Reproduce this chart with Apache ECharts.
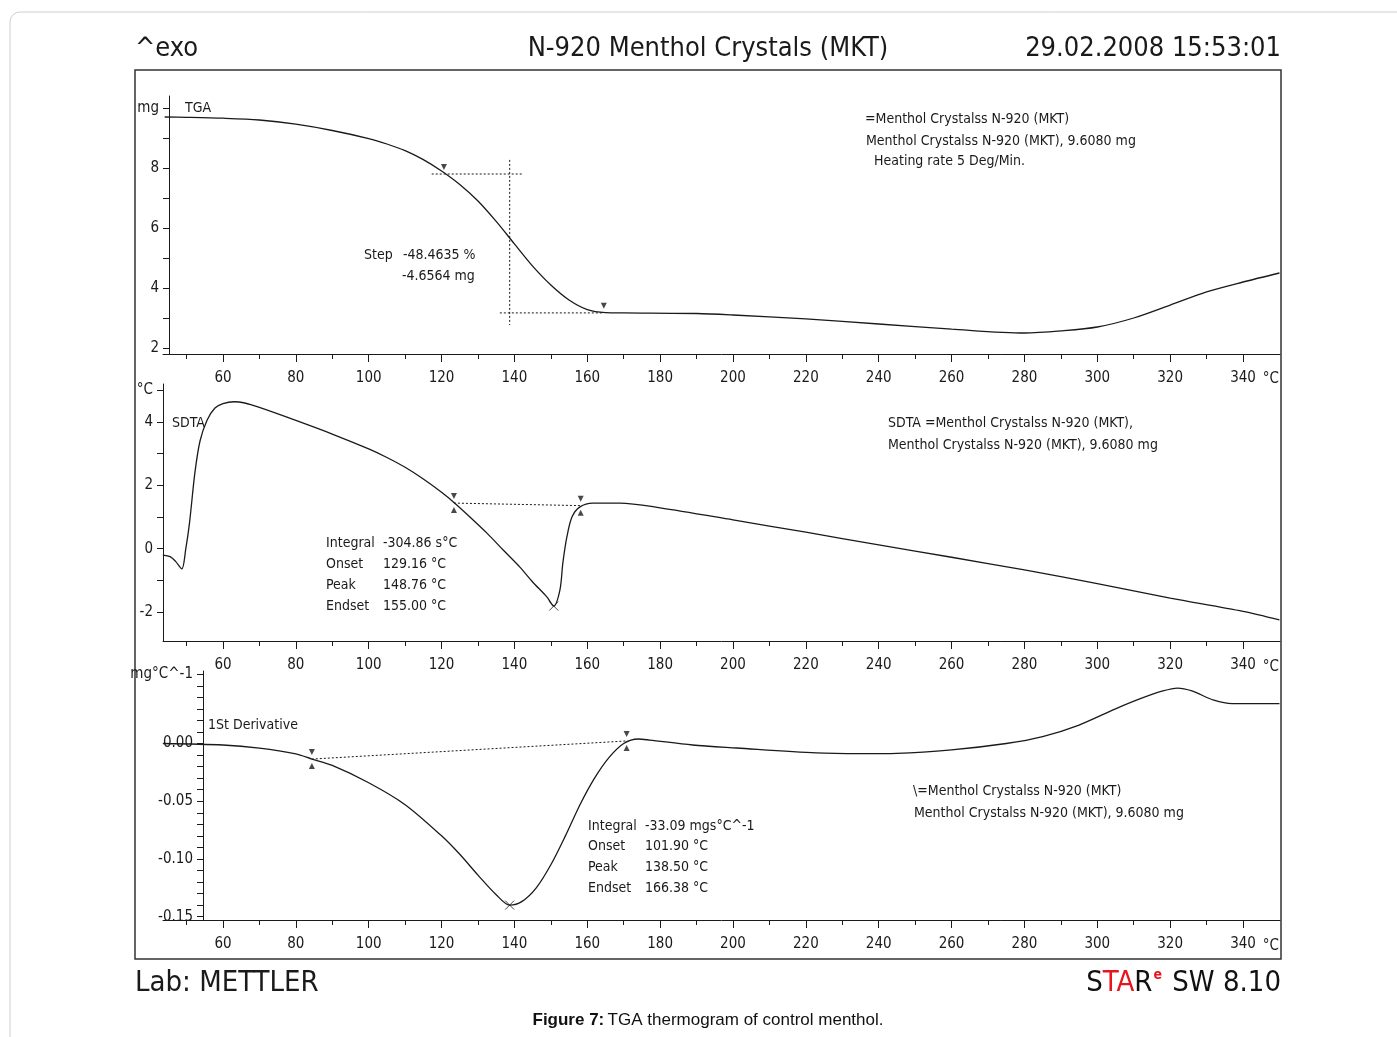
<!DOCTYPE html>
<html>
<head>
<meta charset="utf-8">
<title>N-920 Menthol Crystals (MKT)</title>
<script src="https://cdn.jsdelivr.net/npm/echarts@6/dist/echarts.min.js"></script>
<style>
html, body { margin: 0; padding: 0; background: #fff; }
#chart { width: 1397px; height: 1037px; }
</style>
</head>
<body>
<div id="chart"></div>
<script>
// 温度轴 (°C)
const tMin = 43.54;
const tMax = 350.15;
const xLabels = [60, 80, 100, 120, 140, 160, 180, 200, 220, 240, 260, 280, 300, 320, 340];
const xMinor = [50, 70, 90, 110, 130, 150, 170, 190, 210, 230, 250, 270, 290, 310, 330];

// TGA (mg)
const tgaT = [44, 50, 60, 70, 80, 90, 100, 105, 110, 115, 120, 125, 130, 135, 140, 145, 150, 155, 160, 165, 170, 190, 200, 220, 240, 260, 280, 290, 300, 310, 320, 330, 340, 350];
const tgaMg = [9.70, 9.69, 9.66, 9.60, 9.46, 9.25, 8.98, 8.80, 8.58, 8.28, 7.90, 7.45, 6.90, 6.22, 5.47, 4.73, 4.10, 3.60, 3.28, 3.18, 3.17, 3.15, 3.10, 2.97, 2.80, 2.63, 2.50, 2.57, 2.70, 3.00, 3.43, 3.87, 4.20, 4.50];

// SDTA (°C)
const sdtaT = [43.5, 45.5, 47, 48.7, 49.8, 50.8, 52.3, 53.7, 55.6, 57.8, 60, 63, 66, 70, 80, 90, 100, 105, 110, 115, 120, 123.4, 128, 132.4, 137, 141.5, 145, 148.9, 150.8, 152.5, 153.3, 154.4, 155.8, 158, 161.5, 169, 180, 200, 220, 240, 260, 280, 300, 320, 340, 350];
const sdtaV = [-0.2, -0.25, -0.4, -0.64, 0.0, 0.8, 2.4, 3.4, 4.05, 4.44, 4.58, 4.64, 4.6, 4.46, 4.05, 3.62, 3.15, 2.88, 2.57, 2.2, 1.78, 1.46, 0.98, 0.5, -0.05, -0.58, -1.05, -1.52, -1.81, -1.3, -0.45, 0.37, 1.0, 1.32, 1.44, 1.44, 1.29, 0.91, 0.52, 0.12, -0.27, -0.67, -1.1, -1.56, -1.98, -2.25];

// 1St Derivative (mg°C^-1)
const derT = [43.5, 60, 70, 80, 84.4, 90, 100, 110, 120, 125, 130, 135, 138.7, 142, 146, 150, 154, 158, 162, 166, 170, 174, 177.1, 188.9, 201, 222.9, 235, 245, 260, 275, 285, 295, 305, 312, 318, 322, 326, 332, 337, 350];
const derV = [0.0, -0.0013, -0.004, -0.009, -0.0135, -0.019, -0.034, -0.053, -0.08, -0.096, -0.114, -0.131, -0.14, -0.137, -0.125, -0.105, -0.08, -0.053, -0.03, -0.012, 0.0, 0.0039, 0.003, -0.0013, -0.0039, -0.0082, -0.0088, -0.0085, -0.0055, 0.0, 0.006, 0.016, 0.03, 0.039, 0.0455, 0.048, 0.0455, 0.0375, 0.0345, 0.0345];

// 评估用的虚线
const stepH1 = [[117.3, 7.8], [142.0, 7.8]];
const stepV = [[138.7, 8.27], [138.7, 2.77]];
const stepH2 = [[136.0, 3.17], [164.3, 3.17]];
const sdtaBase = [[123.4, 1.44], [158.2, 1.36]];
const derBase = [[84.4, -0.0135], [170.8, 0.0022]];
const tgaFlags = [[120.1, 7.87], [164.0, 3.24]];
const sdtaLimits = [[123.4, 1.44], [158.2, 1.36]];
const derLimits = [[84.4, -0.0135], [170.8, 0.0022]];
const sdtaPeak = [[150.8, -1.81]];
const derPeak = [[138.7, -0.14]];

// y 轴刻度
const tgaTicks = [2, 3, 4, 5, 6, 7, 8, 9, 10];
const tgaLabels = [2, 4, 6, 8, 10];
const sdtaTicks = [-2, -1, 0, 1, 2, 3, 4, 5];
const sdtaLabels = [-2, 0, 2, 4, 5];
const derTicks = [-0.15, -0.14, -0.13, -0.12, -0.11, -0.10, -0.09, -0.08, -0.07, -0.06, -0.05, -0.04, -0.03, -0.02, -0.01, 0, 0.01, 0.02, 0.03, 0.04, 0.05, 0.06];
const derLabels = [-0.15, -0.10, -0.05, 0, 0.06];

const FONT = '"Liberation Sans Narrow", "Arial Narrow", "DejaVu Sans Condensed", sans-serif';
const INK = '#1a1a1a';
const FS = 14;

const zip = (a, b) => a.map((v, i) => [v, b[i]]);

function xAxes(g) {
  return [
    {
      gridIndex: g, type: 'value', position: 'bottom', min: tMin, max: tMax,
      axisLine: { onZero: false, lineStyle: { color: INK, width: 1 } },
      axisTick: { customValues: xLabels, length: 8, lineStyle: { color: INK } },
      axisLabel: { customValues: xLabels, margin: 17, color: INK, fontFamily: FONT, fontSize: 15 },
      splitLine: { show: false }
    },
    {
      gridIndex: g, type: 'value', position: 'bottom', min: tMin, max: tMax,
      axisLine: { show: false, onZero: false },
      axisTick: { customValues: xMinor, length: 5, lineStyle: { color: INK } },
      axisLabel: { show: false },
      splitLine: { show: false }
    }
  ];
}

function yAxis(g, min, max, ticks, labels, offset, fmt) {
  return {
    gridIndex: g, type: 'value', min: min, max: max, offset: offset,
    axisLine: { show: true, onZero: false, lineStyle: { color: INK, width: 1 } },
    axisTick: { show: true, customValues: ticks, length: 6, lineStyle: { color: INK } },
    axisLabel: { customValues: labels, margin: 10, color: INK, fontFamily: FONT, fontSize: 15, formatter: fmt },
    splitLine: { show: false }
  };
}

function curve(name, xi, yi, data) {
  return {
    name: name, type: 'line', xAxisIndex: xi, yAxisIndex: yi, data: data,
    showSymbol: false, smooth: 0.3,
    lineStyle: { color: INK, width: 1.3 }, z: 3
  };
}

function dotted(xi, yi, data) {
  return {
    type: 'line', xAxisIndex: xi, yAxisIndex: yi, data: data, showSymbol: false,
    lineStyle: { color: INK, width: 1, type: [2, 2] }, z: 2
  };
}

function marks(xi, yi, data, symbol, size, offset, rotate) {
  return {
    type: 'scatter', xAxisIndex: xi, yAxisIndex: yi, data: data,
    symbol: symbol, symbolSize: size, symbolOffset: offset, symbolRotate: rotate || 0,
    itemStyle: { color: INK }, z: 4
  };
}

const cross = 'path://M0,0L10,10M10,0L0,10';

// 注释文字 [x, y, 文本]
const notes = [
  [185, 108, 'TGA'],
  [865, 119, '=Menthol Crystalss N-920 (MKT)'],
  [866, 141, 'Menthol Crystalss N-920 (MKT), 9.6080 mg'],
  [870, 161, ' Heating rate 5 Deg/Min.'],
  [364, 255, 'Step'],
  [403, 255, '-48.4635 %'],
  [402, 276, '-4.6564 mg'],
  [172, 423, 'SDTA'],
  [888, 423, 'SDTA =Menthol Crystalss N-920 (MKT),'],
  [888, 445, 'Menthol Crystalss N-920 (MKT), 9.6080 mg'],
  [326, 543, 'Integral'], [383, 543, '-304.86 s°C'],
  [326, 564, 'Onset'], [383, 564, '129.16 °C'],
  [326, 585, 'Peak'], [383, 585, '148.76 °C'],
  [326, 606, 'Endset'], [383, 606, '155.00 °C'],
  [208, 725, '1St Derivative'],
  [913, 791, '\\=Menthol Crystalss N-920 (MKT)'],
  [914, 813, 'Menthol Crystalss N-920 (MKT), 9.6080 mg'],
  [588, 826, 'Integral'], [645, 826, '-33.09 mgs°C^-1'],
  [588, 846, 'Onset'], [645, 846, '101.90 °C'],
  [588, 867, 'Peak'], [645, 867, '138.50 °C'],
  [588, 888, 'Endset'], [645, 888, '166.38 °C']
];

// 标题与页脚 [x, y, 文本, 字号, 对齐]
const heads = [
  [1279, 379, '°C', 15, 'right'],
  [1279, 667, '°C', 15, 'right'],
  [1279, 946, '°C', 15, 'right'],
  [135, 49, '^exo', 27, 'left'],
  [708, 49, 'N-920 Menthol Crystals (MKT)', 27, 'center'],
  [1281, 49, '29.02.2008 15:53:01', 27, 'right'],
  [135, 983, 'Lab: METTLER', 29, 'left']
];

const graphic = [
  { type: 'rect', shape: { x: 10, y: 12, width: 1400, height: 1040, r: 10 }, style: { fill: 'none', stroke: '#cfcfcf', lineWidth: 1 }, silent: true },
  { type: 'rect', shape: { x: 135, y: 70, width: 1146, height: 889 }, style: { fill: 'none', stroke: '#333', lineWidth: 1.5 }, silent: true }
].concat(notes.map(n => ({
  type: 'text', x: n[0], y: n[1], silent: true,
  style: { text: n[2], font: FS + 'px ' + FONT, fill: INK, align: 'left', verticalAlign: 'middle' }
}))).concat(heads.map(n => ({
  type: 'text', x: n[0], y: n[1], silent: true,
  style: { text: n[2], font: n[3] + 'px ' + FONT, fill: INK, align: n[4], verticalAlign: 'middle' }
}))).concat([
  {
    type: 'text', x: 1281, y: 983, silent: true,
    style: {
      text: '{k|S}{r|TA}{k|R}{e|e}{k| SW 8.10}', align: 'right', verticalAlign: 'middle',
      rich: {
        k: { font: '29px ' + FONT, fill: '#111' },
        r: { font: '29px ' + FONT, fill: '#e8141e' },
        e: { font: 'bold 14px ' + FONT, fill: '#e8141e', verticalAlign: 'top', padding: [0, 2, 12, 1] }
      }
    }
  },
  {
    type: 'text', x: 708, y: 1020, silent: true,
    style: {
      text: '{b|Figure 7:} {n|TGA thermogram of control menthol.}', align: 'center', verticalAlign: 'middle',
      rich: {
        b: { font: 'bold 17px "Liberation Sans", Arial, sans-serif', fill: '#111' },
        n: { font: '17px "Liberation Sans", Arial, sans-serif', fill: '#111' }
      }
    }
  }
]);

const option = {
  animation: false,
  backgroundColor: '#fff',
  grid: [
    { left: 163, right: 117, top: 96, height: 258, outerBoundsMode: 'none' },
    { left: 163, right: 117, top: 384, height: 257, outerBoundsMode: 'none' },
    { left: 163, right: 117, top: 671, height: 249, outerBoundsMode: 'none' }
  ],
  xAxis: [].concat(xAxes(0), xAxes(1), xAxes(2)),
  yAxis: [
    yAxis(0, 1.8, 10.4, tgaTicks, tgaLabels, -6, v => (v === 10 ? 'mg' : '' + v)),
    yAxis(1, -2.914, 5.2, sdtaTicks, sdtaLabels, 0, v => (v === 5 ? '°C' : '' + v)),
    yAxis(2, -0.1529, 0.0628, derTicks, derLabels, -40, v => (v > 0.055 ? 'mg°C^-1' : v.toFixed(2)))
  ],
  graphic: graphic,
  series: [
    curve('TGA', 0, 0, zip(tgaT, tgaMg)),
    dotted(0, 0, stepH1),
    dotted(0, 0, stepV),
    dotted(0, 0, stepH2),
    marks(0, 0, tgaFlags, 'triangle', 6, [2, -5], 180),

    curve('SDTA', 2, 1, zip(sdtaT, sdtaV)),
    dotted(2, 1, sdtaBase),
    marks(2, 1, sdtaLimits, 'triangle', 6, [0, -7], 180),
    marks(2, 1, sdtaLimits, 'triangle', 6, [0, 7], 0),
    {
      type: 'scatter', xAxisIndex: 2, yAxisIndex: 1, data: sdtaPeak, symbol: cross, symbolSize: 9,
      itemStyle: { color: 'none', borderColor: INK, borderWidth: 1 }, z: 4
    },

    curve('1St Derivative', 4, 2, zip(derT, derV)),
    dotted(4, 2, derBase),
    marks(4, 2, derLimits, 'triangle', 6, [0, -7], 180),
    marks(4, 2, derLimits, 'triangle', 6, [0, 7], 0),
    {
      type: 'scatter', xAxisIndex: 4, yAxisIndex: 2, data: derPeak, symbol: cross, symbolSize: 9,
      itemStyle: { color: 'none', borderColor: INK, borderWidth: 1 }, z: 4
    }
  ]
};

const chart = echarts.init(document.getElementById('chart'));
chart.setOption(option);
</script>
</body>
</html>
